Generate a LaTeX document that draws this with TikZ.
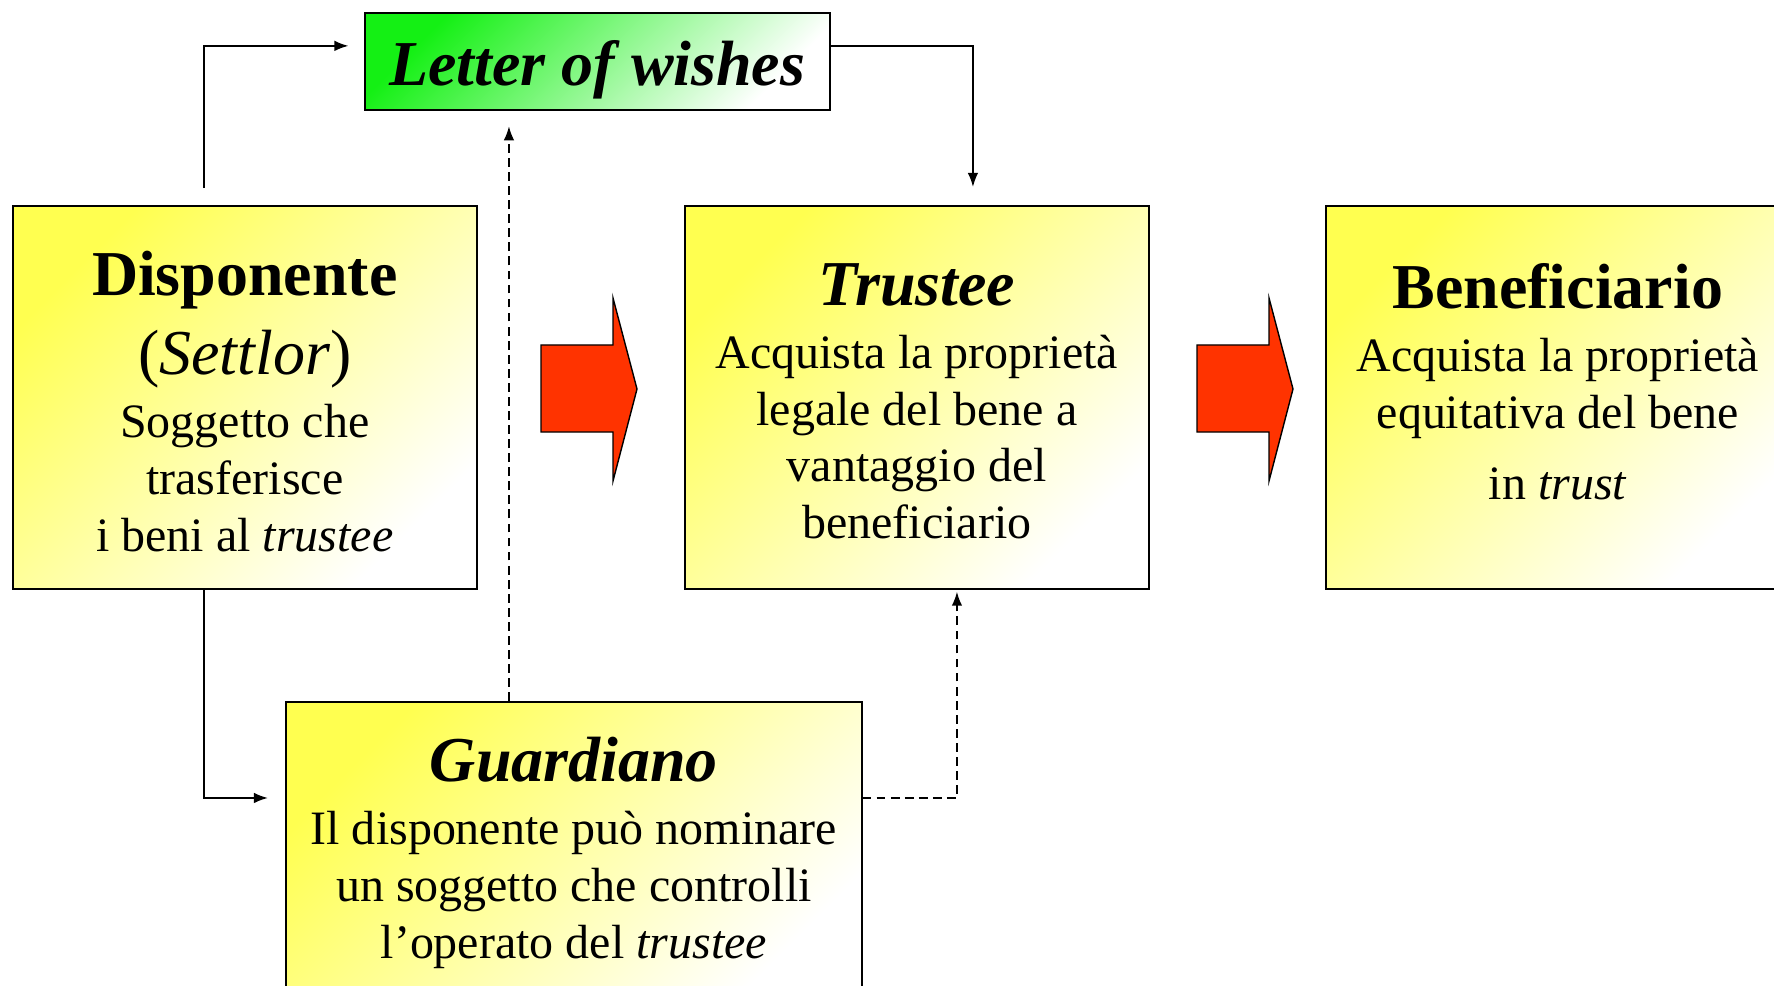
\documentclass[tikz,border=0pt]{standalone}
\usepackage{fontspec}
\setmainfont{Liberation Serif}
\usepackage{xcolor}
\usepackage{tikz}
\usetikzlibrary{arrows.meta,positioning}

\definecolor{boxyellow}{RGB}{255,255,80}
\definecolor{wishgreen}{RGB}{20,240,20}
\definecolor{arrowred}{RGB}{255,51,0}
\newcommand\boxtext{\fontsize{27.3}{32.4}\selectfont}
\newcommand\boxtitle{\fontsize{36.4}{43}\selectfont\bfseries}

\begin{document}
\begin{tikzpicture}[x=0.02cm, y=-0.02cm,
        box/.style={draw, line width=1pt, top color=boxyellow, bottom color=white, shading angle=45,
            align=center, inner sep=0pt, anchor=north west, font=\boxtext,
            minimum width=9.28cm, minimum height=7.66cm},
        wishbox/.style={box, top color=wishgreen, shading angle=45, minimum width=9.3cm, minimum height=1.94cm},
        link/.style={line width=1pt, -{Latex[length=8pt,width=6pt]}},
        hint/.style={link, dash pattern=on 5pt off 3pt},
        bigarrow/.style={draw, line width=0.8pt, fill=arrowred}]

    \clip (0,0) rectangle (1774,986);

    % boxes
    \node[wishbox] (letter) at (364,12) {\rule{0pt}{35pt}{\boxtitle\itshape Letter of wishes}};
    \node[box] (disp) at (12,205) {\rule{0pt}{30pt}{\boxtitle Disponente}\\[11.4pt]
        {\fontsize{36.4}{43}\selectfont(\textit{Settlor})}\\[3.5pt]
        Soggetto che\\ trasferisce\\ i beni al \textit{trustee}};
    \node[box] (trustee) at (684,205) {\rule{0pt}{28.3pt}{\boxtitle\itshape Trustee}\\[3.5pt]
        Acquista la proprietà\\ legale del bene a\\ vantaggio del\\ beneficiario};
    \node[box] (benef) at (1325,205) {{\boxtitle Beneficiario}\\[3.5pt]
        Acquista la proprietà\\ equitativa del bene\\[8pt]
        in \textit{trust}\rule[-17.6pt]{0pt}{17.6pt}};
    \node[box, minimum width=11.52cm, minimum height=6.04cm] (guard) at (285,701) {{\boxtitle\itshape Guardiano}\\[3.5pt]
        Il disponente può nominare\\ un soggetto che controlli\\ l’operato del \textit{trustee}};

    % block arrows
    \foreach \dx in {0,656}
        \draw[bigarrow, shift={(\dx,0)}] (541,345) -- (613,345) -- (613,298) -- (637,389)
            -- (613,481) -- (613,432) -- (541,432) -- cycle;

    % connectors
    \coordinate (gtop) at ([xshift=4.48cm]guard.north west);
    \draw[link, shorten >=0.31cm] ([xshift=3.84cm, yshift=0.34cm]disp.north west) |- ([yshift=0.31cm]letter.west);
    \draw[link] ([yshift=0.31cm]letter.east) -| ([xshift=5.78cm, yshift=0.36cm]trustee.north west);
    \draw[hint, shorten >=0.31cm] (gtop) -- (gtop |- letter.south);
    \draw[link, shorten >=0.34cm] ([xshift=3.84cm]disp.south west) |- ([yshift=-1.94cm]guard.north west);
    \draw[hint, shorten >=0.04cm] ([yshift=-1.94cm]guard.north east) -| ([xshift=5.46cm]trustee.south west);
\end{tikzpicture}
\end{document}
